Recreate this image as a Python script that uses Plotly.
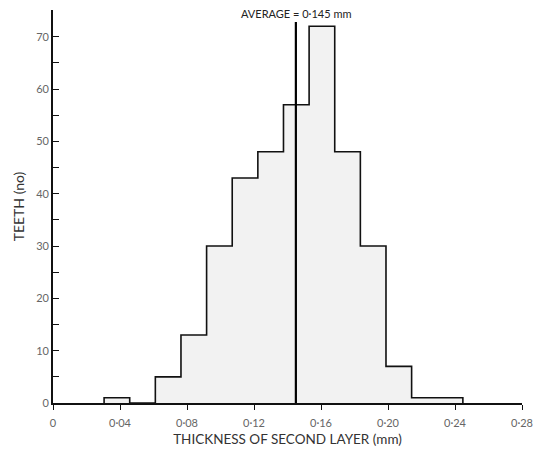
import plotly.graph_objects as go

# Data
bin_start = 0.0305
bin_width = 0.0153
counts = [1, 0, 5, 13, 30, 43, 48, 57, 72, 48, 30, 7, 1, 1]
average = 0.145
x_tick_vals = [0, 0.04, 0.08, 0.12, 0.16, 0.20, 0.24, 0.28]
x_tick_text = ["0", "0·04", "0·08", "0·12", "0·16", "0·20", "0·24", "0·28"]
y_tick_vals = [0, 10, 20, 30, 40, 50, 60, 70]

edges = [bin_start + i * bin_width for i in range(len(counts) + 1)]
step_x = [edges[0]] + edges
step_y = [0] + counts + [0]

FONT = "Lato, 'Open Sans', sans-serif"

fig = go.Figure()
fig.add_trace(go.Scatter(
    x=step_x, y=step_y, mode="lines", line_shape="hv",
    line=dict(color="#111", width=1.6),
    fill="tozeroy", fillcolor="#f2f2f2", hoverinfo="skip", showlegend=False,
))
fig.add_trace(go.Scatter(
    x=[average, average], y=[0, 72.8], mode="lines",
    line=dict(color="#000", width=2.2), hoverinfo="skip", showlegend=False,
))
fig.add_annotation(
    x=average, y=74.4, xref="x", yref="y", text="AVERAGE = 0·145 mm",
    showarrow=False, font=dict(family=FONT, size=11, color="#222"),
    xanchor="center", yanchor="middle",
)

fig.update_layout(
    width=543, height=449,
    margin=dict(l=53, r=21, t=10, b=46),
    paper_bgcolor="white", plot_bgcolor="white",
    font=dict(family=FONT, size=11, color="#555"),
    showlegend=False,
    xaxis=dict(
        range=[0, 0.28], tickvals=x_tick_vals, ticktext=x_tick_text,
        automargin=False,
        showline=True, linecolor="#111", linewidth=1.6,
        ticks="outside", ticklen=5, tickcolor="#111", tickwidth=1.2,
        ticklabelstandoff=4,
        showgrid=False, zeroline=False,
        tickfont=dict(family=FONT, size=11, color="#666"),
        title=dict(text="THICKNESS OF SECOND LAYER (mm)", standoff=7,
                   font=dict(family=FONT, size=13.5, color="#333")),
    ),
    yaxis=dict(
        range=[0, 75.1], tickvals=y_tick_vals,
        automargin=False,
        showline=True, linecolor="#111", linewidth=1.6,
        ticks="inside", ticklen=6, tickcolor="#111", tickwidth=1.2,
        minor=dict(dtick=5, tick0=0, ticks="inside", ticklen=6, tickcolor="#111", tickwidth=1.2),
        showgrid=False, zeroline=False,
        tickfont=dict(family=FONT, size=11, color="#666"),
        title=dict(text="TEETH (no)", standoff=8,
                   font=dict(family=FONT, size=14, color="#333")),
    ),
)

fig.write_html("out.html", config={"displayModeBar": False},
               post_script="document.body.style.margin='0';")
